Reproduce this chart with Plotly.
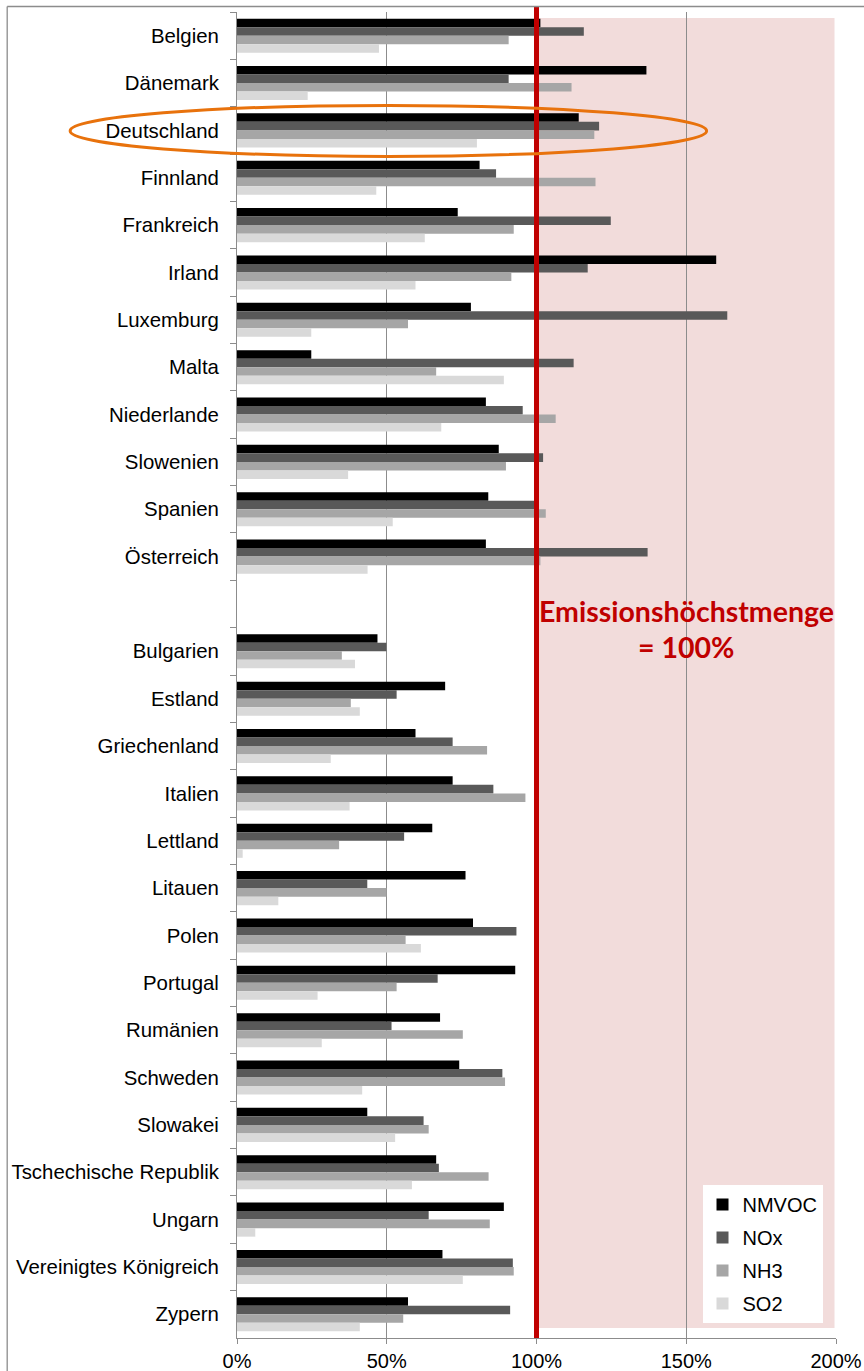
import plotly.graph_objects as go

# Emissions relative to the national ceiling (100 % = Emissionshöchstmenge)
countries = [
    "Belgien", "Dänemark", "Deutschland", "Finnland", "Frankreich", "Irland",
    "Luxemburg", "Malta", "Niederlande", "Slowenien", "Spanien", "Österreich",
    " ",
    "Bulgarien", "Estland", "Griechenland", "Italien", "Lettland", "Litauen",
    "Polen", "Portugal", "Rumänien", "Schweden", "Slowakei",
    "Tschechische Republik", "Ungarn", "Vereinigtes Königreich", "Zypern",
]

nmvoc = [101.3, 136.7, 114.1, 81.0, 73.7, 160.0, 78.1, 24.8, 83.1, 87.4, 83.9, 83.1,
         None,
         46.9, 69.5, 59.6, 72.0, 65.2, 76.3, 78.8, 92.9, 67.8, 74.2, 43.5, 66.5, 89.1, 68.6, 57.1]
nox = [115.8, 90.7, 120.9, 86.5, 124.8, 117.1, 163.7, 112.4, 95.4, 102.2, 100.3, 137.1,
       None,
       49.9, 53.3, 72.0, 85.6, 55.8, 43.5, 93.3, 67.0, 51.6, 88.6, 62.3, 67.4, 64.0, 92.1, 91.2]
nh3 = [90.7, 111.7, 119.3, 119.7, 92.4, 91.6, 57.1, 66.5, 106.4, 89.8, 103.1, 101.3,
       None,
       35.0, 38.0, 83.5, 96.3, 34.1, 49.9, 56.3, 53.3, 75.4, 89.5, 64.0, 84.0, 84.4, 92.4, 55.5]
so2 = [47.4, 23.6, 80.1, 46.5, 62.7, 59.6, 24.8, 89.1, 68.2, 37.1, 52.0, 43.6,
       None,
       39.4, 41.0, 31.3, 37.6, 1.9, 13.8, 61.4, 26.9, 28.3, 41.8, 52.8, 58.4, 6.1, 75.4, 41.0]

series = [
    ("NMVOC", nmvoc, "#000000"),
    ("NOx", nox, "#595959"),
    ("NH3", nh3, "#A6A6A6"),
    ("SO2", so2, "#D9D9D9"),
]

x_ticks = [0, 50, 100, 150, 200]
x_tick_labels = ["0%", "50%", "100%", "150%", "200%"]
x_max = 200
ceiling = 100
highlight = "Deutschland"

W, H = 864, 1371
M_L, M_R, M_T, M_B = 237, 27.5, 12, 33
plot_w = W - M_L - M_R
plot_h = H - M_T - M_B


def px_x(px):
    """Horizontal pixel position -> paper fraction."""
    return (px - M_L) / plot_w


def px_y(py):
    """Vertical pixel position (from top) -> paper fraction."""
    return (H - M_B - py) / plot_h


FONT = "Liberation Sans, Arial, sans-serif"
GRID = "#8C8C8C"

fig = go.Figure()
for name, vals, col in series:
    fig.add_trace(go.Bar(
        y=countries, x=vals, name=name, orientation="h",
        marker=dict(color=col, line=dict(width=0)),
        legendgroup=name,
    ))

# shaded zone above the ceiling
fig.add_shape(type="rect", xref="x", yref="y domain",
              x0=ceiling, x1=x_max - 0.5, y0=px_y(1328), y1=px_y(18),
              fillcolor="#F2DCDB", line=dict(width=0), layer="below")

# ceiling line (100 %)
xc = ceiling / x_max
fig.add_shape(type="line", xref="paper", yref="paper",
              x0=xc, x1=xc, y0=0, y1=px_y(6),
              line=dict(color="#C00000", width=5), layer="above")

# outer chart frame (left and top edges)
fig.add_shape(type="line", xref="paper", yref="paper",
              x0=px_x(7), x1=px_x(7), y0=px_y(H + 5), y1=px_y(6.5),
              line=dict(color=GRID, width=1.3))
fig.add_shape(type="line", xref="paper", yref="paper",
              x0=px_x(7), x1=px_x(W + 5), y0=px_y(6.5), y1=px_y(6.5),
              line=dict(color=GRID, width=1.3))

# highlight around Deutschland
idx = countries.index(highlight)
slot = plot_h / len(countries)
cy = M_T + (idx + 0.5) * slot
fig.add_shape(type="circle", xref="paper", yref="paper",
              x0=px_x(70), x1=px_x(707), y0=px_y(cy + 26), y1=px_y(cy - 25),
              line=dict(color="#E8720C", width=3), layer="above")

# ceiling annotation
ann_font = dict(family="Lato, sans-serif", size=28.5, color="#C00000")
fig.add_annotation(x=150, xref="x", yref="paper", y=px_y(611),
                   text="<b>Emissionshöchstmenge</b>", showarrow=False,
                   font=ann_font, xanchor="center", yanchor="middle")
fig.add_annotation(x=150, xref="x", yref="paper", y=px_y(647),
                   text="<b>= 100%</b>", showarrow=False,
                   font=ann_font, xanchor="center", yanchor="middle")

fig.update_layout(
    width=W, height=H,
    margin=dict(l=M_L, r=M_R, t=M_T, b=M_B, pad=0, autoexpand=False),
    paper_bgcolor="white", plot_bgcolor="white",
    barmode="group", bargap=0.28, bargroupgap=0,
    font=dict(family=FONT, size=20, color="#000000"),
    showlegend=True,
    legend=dict(
        x=px_x(823), y=px_y(1323), xanchor="right", yanchor="bottom",
        bgcolor="white", borderwidth=0,
        font=dict(family=FONT, size=20, color="#000000"),
        traceorder="grouped", tracegroupgap=4, itemwidth=30,
    ),
)

fig.update_xaxes(
    range=[0, x_max], tickmode="array", tickvals=x_ticks, ticktext=x_tick_labels,
    showgrid=True, gridcolor=GRID, gridwidth=1,
    showline=True, linecolor=GRID, linewidth=1,
    ticks="outside", ticklen=5, tickcolor=GRID,
    zeroline=False, tickfont=dict(size=20), automargin=False,
)
fig.update_yaxes(
    categoryorder="array", categoryarray=countries, autorange="reversed",
    showgrid=False, showline=True, linecolor=GRID, linewidth=1,
    ticks="outside", tickson="boundaries", ticklen=6, tickcolor=GRID,
    tickfont=dict(size=20.4), zeroline=False, automargin=False,
    ticklabelstandoff=13,
)

fig.write_html("out.html")
